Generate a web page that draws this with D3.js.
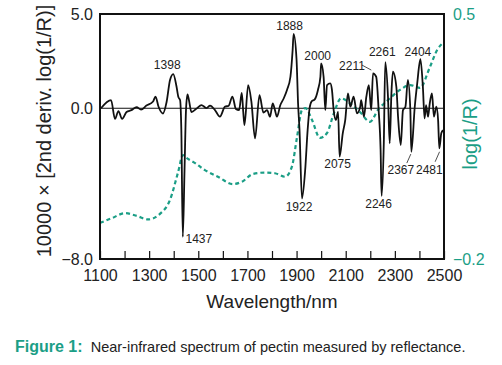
<!DOCTYPE html>
<html>
<head>
<meta charset="utf-8">
<script src="https://cdn.jsdelivr.net/npm/d3@7"></script>
<style>
  body { margin: 0; background: #fff; }
  text { font-family: "Liberation Sans", Arial, sans-serif; }
</style>
</head>
<body>
<div id="chart"></div>
<script>
// 2nd derivative spectrum: [wavelength nm, 10000 x 2nd deriv]
const derivSpectrum = [
  [1104, 0], [1145, 0.43], [1161, -0.57], [1175, -0.15], [1190, -0.57], [1208, -0.2],
  [1228, -0.1], [1249, 0.06], [1267, -0.07], [1289, 0.14], [1316, 0.36], [1326, 0.62],
  [1338, 0.09], [1356, -0.28], [1371, 0.33], [1385, 1.5], [1398, 1.81], [1411, 1.18],
  [1419, 0.59], [1426, 0.43], [1431, -1.16], [1437, -6.83], [1444, -3.28], [1450, -0.1],
  [1456, 0.73], [1462, 0.43], [1472, -0.2], [1493, -0.02], [1513, 0.17], [1533, 0.01],
  [1548, 0.14], [1568, -0.1], [1588, -0.45], [1609, 0.09], [1623, 0.12], [1639, 0.62],
  [1653, -0.04], [1666, -0.1], [1677, 0.81], [1683, -0.2], [1688, -0.89], [1703, 1.23],
  [1716, 0.36], [1731, -1.6], [1749, 0.7], [1765, -0.23], [1780, -0.1], [1792, -0.45],
  [1803, 0.25], [1812, -0.1], [1820, -0.45], [1834, 0.17], [1848, 0.53], [1861, 0.97],
  [1875, 1.67], [1884, 3.09], [1888, 3.95], [1900, 2.56], [1906, 0.28], [1912, -1.16],
  [1922, -4.79], [1935, -3.28], [1945, -1.16], [1953, 0.01], [1961, 0.36], [1974, 0.47],
  [1987, 0.97], [1997, 1.67], [2000, 2.38], [2010, 1.67], [2017, -0.1], [2024, 1.23],
  [2037, 1.32], [2044, 0.97], [2051, -0.1], [2060, -0.63], [2069, -0.19], [2075, -2.57],
  [2088, -1.33], [2098, -0.63], [2109, 0.79], [2119, 0.08], [2132, 0.61], [2146, -0.27],
  [2159, 0.08], [2163, 0.43], [2174, -0.45], [2184, 0.61], [2194, 1.23], [2204, -0.1],
  [2211, 1.85], [2224, 1.67], [2234, -0.1], [2242, -2.22], [2246, -4.65], [2255, -1.86],
  [2261, 2.45], [2272, 0.61], [2279, -1.86], [2286, 0.79], [2292, 1.94], [2306, 1.14],
  [2313, -0.45], [2324, -1.95], [2333, -0.1], [2343, 0.08], [2353, 1.5], [2363, -0.1],
  [2367, -2.31], [2381, 0.08], [2391, 1.32], [2404, 2.6], [2414, 1.14], [2421, -0.54],
  [2427, 0.17], [2435, -0.45], [2442, 0.26], [2451, 0.79], [2459, -0.45], [2469, 0.08],
  [2476, -0.63], [2481, -2.13], [2489, -1.33], [2496, -1.16]
];

// raw spectrum: [wavelength nm, log(1/R)]
const logSpectrum = [
  [1100, -0.097], [1149, -0.083], [1202, -0.069], [1250, -0.077], [1295, -0.087],
  [1344, -0.071], [1385, -0.031], [1417, 0.046], [1438, 0.097], [1446, 0.092],
  [1487, 0.074], [1527, 0.054], [1580, 0.035], [1641, 0.014], [1678, 0.021],
  [1723, 0.043], [1772, 0.047], [1812, 0.045], [1853, 0.035], [1881, 0.064],
  [1902, 0.149], [1922, 0.226], [1936, 0.231], [1963, 0.197], [1995, 0.146],
  [2024, 0.160], [2052, 0.217], [2081, 0.259], [2126, 0.240], [2158, 0.220],
  [2199, 0.192], [2231, 0.226], [2272, 0.254], [2321, 0.283], [2362, 0.297],
  [2402, 0.289], [2443, 0.349], [2472, 0.397], [2500, 0.42]
];

const xTicks = d3.range(1100, 2501, 100);
const xTickLabels = [1100, 1300, 1500, 1700, 1900, 2100, 2300, 2500];
const leftTicks = [5.0, 0.0, -8.0];
const rightTicks = [0.5, -0.2];
const bandLabels = [1398, 1437, 1888, 1922, 2000, 2075, 2211, 2246, 2261, 2367, 2404, 2481];

const teal = "#1b9e86";
const W = 502, H = 365;
const margin = {top: 14, right: 58, bottom: 106, left: 100};
const w = W - margin.left - margin.right;
const h = H - margin.top - margin.bottom;

const svg = d3.select("#chart").append("svg")
    .attr("width", W)
    .attr("height", H);

const chart = svg.append("g")
    .attr("transform", "translate(" + margin.left + "," + margin.top + ")");

// scales
const x = d3.scaleLinear().domain([1100, 2500]).range([0, w]);
const yL = d3.scaleLinear().domain([-8, 5]).range([h, 0]);
const yR = d3.scaleLinear().domain([-0.2, 0.5]).range([h, 0]);

// zero line
chart.append("line")
    .attr("x1", 0).attr("x2", w)
    .attr("y1", yL(0)).attr("y2", yL(0))
    .attr("stroke", "#111")
    .attr("stroke-width", 1.1);

// log(1/R) dashed
chart.append("path")
    .datum(logSpectrum)
    .attr("fill", "none")
    .attr("stroke", teal)
    .attr("stroke-width", 2.2)
    .attr("stroke-dasharray", "4,3")
    .attr("d", d3.line().curve(d3.curveMonotoneX)
        .x(d => x(d[0])).y(d => yR(d[1])));

// 2nd derivative
chart.append("path")
    .datum(derivSpectrum)
    .attr("fill", "none")
    .attr("stroke", "#111")
    .attr("stroke-width", 1.8)
    .attr("stroke-linejoin", "round")
    .attr("d", d3.line().curve(d3.curveMonotoneX)
        .x(d => x(d[0])).y(d => yL(d[1])));

// bottom axis, ticks point inward
const xAxis = chart.append("g")
    .attr("transform", "translate(0," + h + ")")
    .call(d3.axisBottom(x)
        .tickValues(xTicks)
        .tickSizeInner(-8)
        .tickSizeOuter(0)
        .tickPadding(10.5)
        .tickFormat(d => xTickLabels.includes(d) ? d : ""));
xAxis.select(".domain").remove();
xAxis.selectAll("line").attr("stroke", "#111").attr("stroke-width", 1.2);
xAxis.selectAll("text").attr("font-size", 16).attr("fill", "#222")
    .style("font-family", "Liberation Sans, Arial, sans-serif");

const leftAxis = chart.append("g")
    .call(d3.axisLeft(yL).tickValues(leftTicks).tickSize(0).tickPadding(7)
        .tickFormat(d3.format(".1f")));
leftAxis.select(".domain").remove();
leftAxis.selectAll("text").attr("font-size", 16).attr("fill", "#222")
    .style("font-family", "Liberation Sans, Arial, sans-serif");

const rightAxis = chart.append("g")
    .attr("transform", "translate(" + w + ",0)")
    .call(d3.axisRight(yR).tickValues(rightTicks).tickSize(0).tickPadding(9)
        .tickFormat(d3.format(".1f")));
rightAxis.select(".domain").remove();
rightAxis.selectAll("text").attr("font-size", 16).attr("fill", teal)
    .style("font-family", "Liberation Sans, Arial, sans-serif");

// frame
chart.append("rect")
    .attr("width", w).attr("height", h)
    .attr("fill", "none")
    .attr("stroke", "#111")
    .attr("stroke-width", 2);

// band labels
const labelOffsets = {
  1398: [-6, -5], 1437: [16, 6], 1888: [-4, -3.5], 1922: [-3, 12.5],
  2000: [-3.5, -3.3], 2075: [-2, 11.5], 2211: [-21, -3.3], 2246: [-3, 12],
  2261: [-3, -6], 2367: [-10.5, 22.6], 2404: [-2.5, -3], 2481: [-10, 26]
};
const leaders = {
  2211: [[-11, -8.3], [-1.7, -3.3]],
  2367: [[-0.5, 2.3], [-4.5, 11.3]],
  2481: [[0.2, 3.4], [-4.2, 13.4]]
};
const valueAt = nm => derivSpectrum.find(d => d[0] === nm)[1];

bandLabels.forEach(nm => {
  const px = x(nm), py = yL(valueAt(nm));
  const off = labelOffsets[nm];
  chart.append("text")
      .attr("x", px + off[0])
      .attr("y", py + off[1])
      .attr("text-anchor", "middle")
      .attr("font-size", 12)
      .attr("fill", "#222")
      .text(nm);
  if (leaders[nm]) {
    const l = leaders[nm];
    chart.append("line")
        .attr("x1", px + l[0][0]).attr("y1", py + l[0][1])
        .attr("x2", px + l[1][0]).attr("y2", py + l[1][1])
        .attr("stroke", "#222").attr("stroke-width", 0.8);
  }
});

// axis titles
svg.append("text")
    .attr("transform", "translate(44," + 131 + ") rotate(-90)")
    .attr("text-anchor", "middle")
    .attr("dy", "0.35em")
    .attr("font-size", 20)
    .attr("fill", "#222")
    .text("10000 × [2nd deriv. log(1/R)]");

svg.append("text")
    .attr("transform", "translate(470," + 134 + ") rotate(-90)")
    .attr("text-anchor", "middle")
    .attr("dy", "0.35em")
    .attr("font-size", 20)
    .attr("fill", teal)
    .text("log(1/R)");

svg.append("text")
    .attr("x", margin.left + w / 2)
    .attr("y", 308)
    .attr("text-anchor", "middle")
    .attr("font-size", 19)
    .attr("fill", "#222")
    .text("Wavelength/nm");

// caption
svg.append("text")
    .attr("x", 15).attr("y", 352)
    .attr("font-size", 16)
    .attr("font-weight", "bold")
    .attr("fill", teal)
    .text("Figure 1:");
svg.append("text")
    .attr("x", 90.7).attr("y", 352)
    .attr("font-size", 14.5)
    .attr("fill", "#222")
    .text("Near-infrared spectrum of pectin measured by reflectance.");
</script>
</body>
</html>
